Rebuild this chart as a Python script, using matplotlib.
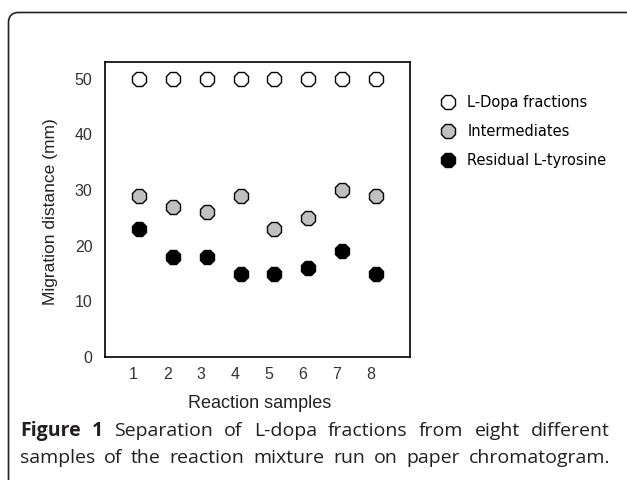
import matplotlib
matplotlib.use("Agg")
import matplotlib.pyplot as plt
import matplotlib.transforms as mtransforms
from matplotlib.patches import FancyBboxPatch
from matplotlib.lines import Line2D

samples = [1, 2, 3, 4, 5, 6, 7, 8]
ldopa = [50, 50, 50, 50, 50, 50, 50, 50]
intermediates = [29, 27, 26, 29, 23, 25, 30, 29]
tyrosine = [23, 18, 18, 15, 15, 16, 19, 15]
series_names = ["L-Dopa fractions", "Intermediates", "Residual L-tyrosine"]
caption_bold = "Figure 1"
caption_lines = ["Separation of L-dopa fractions from eight different",
                 "samples of the reaction mixture run on paper chromatogram."]

plt.rcParams['font.family'] = ['Liberation Sans', 'DejaVu Sans']

fig = plt.figure(figsize=(6.27, 4.8), dpi=100)
ax = fig.add_axes([105 / 627, 1 - 357 / 480, 305 / 627, 295 / 480])

mk = dict(marker='8', markersize=10.5, markeredgewidth=1.0, markeredgecolor='black', linestyle='none')
ax.plot(samples, ldopa, markerfacecolor='white', **mk)
ax.plot(samples, intermediates, markerfacecolor='#c0c0c0', **mk)
ax.plot(samples, tyrosine, markerfacecolor='black', **mk)

ax.set_xlim(0, 9)
ax.set_ylim(0, 53)
ax.set_xticks(samples)
ax.set_yticks([0, 10, 20, 30, 40, 50])
ax.tick_params(length=0, labelsize=11.5, labelcolor='#333333')
ax.tick_params(axis='x', pad=7)
ax.tick_params(axis='y', pad=9)
shift = mtransforms.ScaledTranslation(-5.5 / 100, 0, fig.dpi_scale_trans)
for lbl in ax.get_xticklabels():
    lbl.set_transform(lbl.get_transform() + shift)
for s in ax.spines.values():
    s.set_linewidth(1.2)

fig.text(51 / 627, 1 - 212 / 480, "Migration distance (mm)", rotation=90,
         ha='center', va='center', fontsize=12.5, color='#222222')
fig.text(260 / 627, 1 - 403 / 480, "Reaction samples",
         ha='center', va='center', fontsize=13, color='#222222')

# legend
handles = [Line2D([], [], markerfacecolor=c, **mk) for c in ['white', '#c0c0c0', 'black']]
fig.legend(handles, series_names, loc='upper left', bbox_to_anchor=(441 / 627, 1 - 95 / 480),
           frameon=False, borderpad=0, borderaxespad=0, handlelength=0.9,
           handletextpad=0.9, labelspacing=0.95,
           prop={'family': 'DejaVu Sans', 'size': 10.5})

# rounded panel border
border = FancyBboxPatch((0.085, -0.5), 6.5, 4.675 + 0.5,
                        boxstyle="round,pad=0,rounding_size=0.1",
                        transform=fig.dpi_scale_trans, facecolor='none',
                        edgecolor='#222222', linewidth=1.2)
fig.patches.append(border)

# caption, justified word by word
cap_font = dict(family=['Open Sans', 'DejaVu Sans'], size=14, color='#231f20')
renderer = fig.canvas.get_renderer()
x_left, x_right = 20, 610
rows = [caption_bold.split() + caption_lines[0].split(), caption_lines[1].split()]
for r, (words, yc) in enumerate(zip(rows, [431, 458])):
    texts = []
    for i, w in enumerate(words):
        bold = (r == 0 and i < 2)
        t = fig.text(0, 1 - yc / 480, w, va='center', ha='left',
                     fontweight='bold' if bold else 'normal', **cap_font)
        texts.append(t)
    widths = [t.get_window_extent(renderer).width for t in texts]
    gap = (x_right - x_left - sum(widths)) / (len(words) - 1)
    x = x_left
    for t, w in zip(texts, widths):
        t.set_x(x / 627)
        x += w + gap

fig.savefig("out.png", dpi=100)
